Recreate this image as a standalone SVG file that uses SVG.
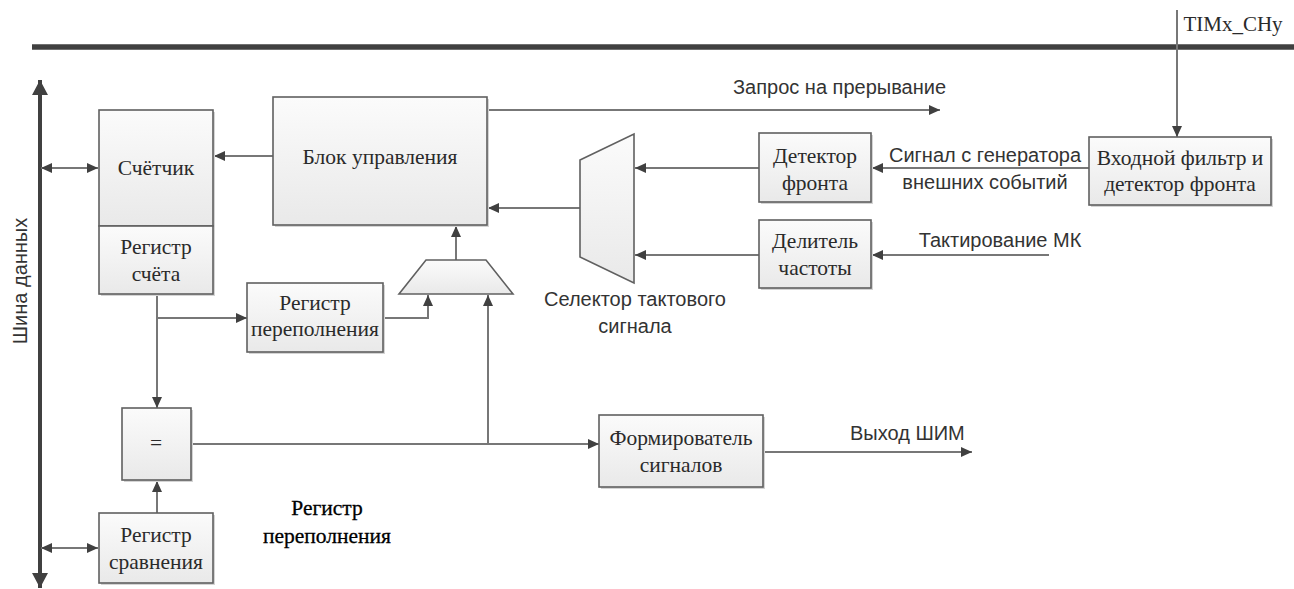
<svg xmlns="http://www.w3.org/2000/svg" width="1294" height="589" viewBox="0 0 1294 589">
<style>
.box{fill:url(#g);stroke:#606060;stroke-width:1.6}
.sh{fill:#d4d4d4}
.ln{fill:none;stroke:#777;stroke-width:2}
.bus{fill:none;stroke:#404040}
.st{font-family:"Liberation Serif","DejaVu Serif","Noto Serif",serif;font-size:21.5px;fill:#2a2a2a;text-anchor:middle}
.ss{font-family:"Liberation Sans",Arial,sans-serif;font-size:20px;fill:#333}
</style>
<defs>
<linearGradient id="g" x1="0" y1="0" x2="0" y2="1"><stop offset="0" stop-color="#fbfbfb"/><stop offset="1" stop-color="#e9e9e9"/></linearGradient>
<marker id="a" markerUnits="userSpaceOnUse" markerWidth="12" markerHeight="10" refX="11" refY="5" orient="auto-start-reverse"><path d="M0,0 L11,5 L0,10 Z" fill="#404040"/></marker>
<marker id="b" markerUnits="userSpaceOnUse" markerWidth="16" markerHeight="16" refX="15" refY="8" orient="auto-start-reverse"><path d="M0,0 L15,8 L0,16 Z" fill="#404040"/></marker>
</defs>
<rect width="1294" height="589" fill="#fff"/>
<g id="buses">
<path class="bus" d="M32,47 H1294" stroke-width="5.5"/>
<path class="bus" d="M40,80 V588" stroke-width="4" marker-start="url(#b)" marker-end="url(#b)"/>
<text class="ss" transform="translate(27,281) rotate(-90)" text-anchor="middle">Шина данных</text>
</g>
<g id="connectors">
<path class="ln" d="M273,156 H214" marker-end="url(#a)"/>
<path class="ln" d="M41,168 H98" marker-start="url(#a)" marker-end="url(#a)"/>
<path class="ln" d="M488,110 H940" marker-end="url(#a)"/>
<path class="ln" d="M1177,10 V137" marker-end="url(#a)"/>
<path class="ln" d="M1089,168 H872" marker-end="url(#a)"/>
<path class="ln" d="M759,168 H635" marker-end="url(#a)"/>
<path class="ln" d="M759,255 H635" marker-end="url(#a)"/>
<path class="ln" d="M1049,255 H872" marker-end="url(#a)"/>
<path class="ln" d="M580,208 H488" marker-end="url(#a)"/>
<path class="ln" d="M456,260 V226" marker-end="url(#a)"/>
<path class="ln" d="M157,295 V408" marker-end="url(#a)"/>
<path class="ln" d="M157,318 H247" marker-end="url(#a)"/>
<path class="ln" d="M384,318 H428 V295" marker-end="url(#a)"/>
<path class="ln" d="M192,444 H599" marker-end="url(#a)"/>
<path class="ln" d="M488,444 V295" marker-end="url(#a)"/>
<path class="ln" d="M157,513 V481" marker-end="url(#a)"/>
<path class="ln" d="M41,548 H98" marker-start="url(#a)" marker-end="url(#a)"/>
<path class="ln" d="M763,452 H972" marker-end="url(#a)"/>
</g>
<g id="counter">
<rect class="sh" x="101" y="112" width="114" height="184"/>
<rect class="box" x="99" y="110" width="114" height="116"/>
<rect class="box" x="99" y="226" width="114" height="68"/>
<text class="st" x="156" y="175">Счётчик</text>
<text class="st" x="156" y="254">Регистр</text>
<text class="st" x="156" y="281">счёта</text>
</g>
<g id="control">
<rect class="sh" x="275" y="99" width="214" height="128"/>
<rect class="box" x="273" y="97" width="214" height="128"/>
<text class="st" x="380" y="164">Блок управления</text>
</g>
<g id="overflow-reg">
<rect class="sh" x="249" y="285" width="136" height="69"/>
<rect class="box" x="247" y="283" width="136" height="69"/>
<text class="st" x="315" y="310">Регистр</text>
<text class="st" x="315" y="336">переполнения</text>
</g>
<g id="mux">
<polygon class="box" points="426,260 486,260 513,294 399,294"/>
</g>
<g id="selector">
<polygon class="box" points="580,160 634,134 634,283 580,257"/>
<text class="ss" x="635" y="306" text-anchor="middle">Селектор тактового</text>
<text class="ss" x="635" y="333" text-anchor="middle">сигнала</text>
</g>
<g id="edge-detector">
<rect class="sh" x="761" y="135" width="112" height="69"/>
<rect class="box" x="759" y="133" width="112" height="69"/>
<text class="st" x="815" y="163">Детектор</text>
<text class="st" x="815" y="190">фронта</text>
</g>
<g id="divider">
<rect class="sh" x="761" y="222" width="112" height="68"/>
<rect class="box" x="759" y="220" width="112" height="68"/>
<text class="st" x="815" y="248">Делитель</text>
<text class="st" x="815" y="275">частоты</text>
</g>
<g id="input-filter">
<rect class="sh" x="1091" y="139" width="182" height="68"/>
<rect class="box" x="1089" y="137" width="182" height="68"/>
<text class="st" x="1180" y="165">Входной фильтр и</text>
<text class="st" x="1180" y="191">детектор фронта</text>
</g>
<g id="comparator">
<rect class="sh" x="124" y="410" width="69" height="72"/>
<rect class="box" x="122" y="408" width="69" height="72"/>
<text class="st" x="156" y="450">=</text>
</g>
<g id="compare-reg">
<rect class="sh" x="101" y="515" width="114" height="70"/>
<rect class="box" x="99" y="513" width="114" height="70"/>
<text class="st" x="156" y="542">Регистр</text>
<text class="st" x="156" y="569">сравнения</text>
</g>
<g id="shaper">
<rect class="sh" x="601" y="417" width="164" height="72"/>
<rect class="box" x="599" y="415" width="164" height="72"/>
<text class="st" x="681" y="445">Формирователь</text>
<text class="st" x="681" y="472">сигналов</text>
</g>
<g id="labels">
<text class="ss" x="733" y="94">Запрос на прерывание</text>
<text class="ss" x="985" y="162" text-anchor="middle">Сигнал с генератора</text>
<text class="ss" x="985" y="189" text-anchor="middle">внешних событий</text>
<text class="ss" x="1000" y="247" text-anchor="middle">Тактирование МК</text>
<text class="ss" x="850" y="440">Выход ШИМ</text>
<text class="st" x="1233" y="31" style="font-size:21px">TIMx_CHy</text>
<text class="st" x="327" y="515" style="fill:#000;stroke:#000;stroke-width:0.3">Регистр</text>
<text class="st" x="327" y="543" style="fill:#000;stroke:#000;stroke-width:0.3">переполнения</text>
</g>
</svg>
